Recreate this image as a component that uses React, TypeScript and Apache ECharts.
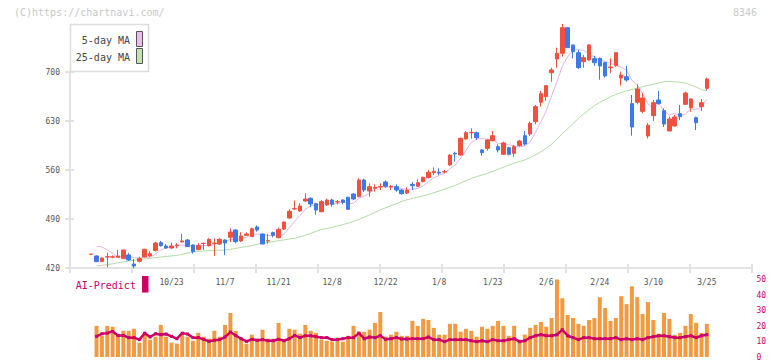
import React, { useEffect, useRef } from 'react';
import * as echarts from 'echarts';

const FONT = '"DejaVu Sans Mono", monospace';

const tickLabels = ['10/23', '11/7', '11/21', '12/8', '12/22', '1/8', '1/23', '2/6', '2/24', '3/10', '3/25'];
const firstLabelIndex = 15;
const labelStep = 10;

const opens = [439.5, 437.2, 429.1, 435.7, 435.5, 435.3, 433.4, 438.6, 425.7, 429.6, 435.7, 437.2, 444.8, 456.2, 451.4, 448.6, 451.9, 457.2, 460.0, 452.9, 446.2, 455.0, 451.9, 455.2, 454.3, 460.0, 463.8, 474.3, 458.6, 466.7, 464.8, 478.6, 468.6, 458.6, 470.5, 463.3, 475.7, 491.4, 504.3, 501.4, 515.7, 519.5, 511.9, 500.5, 510.0, 517.1, 514.3, 517.1, 521.0, 525.7, 521.9, 545.7, 530.0, 533.8, 535.7, 542.9, 535.7, 536.2, 531.4, 527.1, 539.5, 536.7, 543.3, 549.0, 556.2, 557.0, 557.1, 567.1, 583.8, 581.4, 604.3, 613.3, 613.3, 588.6, 590.9, 601.9, 593.3, 582.4, 591.9, 583.8, 594.8, 609.0, 611.4, 629.1, 656.7, 664.8, 699.0, 718.6, 726.7, 763.3, 738.6, 727.6, 714.8, 717.1, 719.0, 719.5, 713.3, 706.2, 709.0, 691.4, 693.3, 654.8, 656.7, 643.8, 608.6, 637.6, 660.0, 644.8, 615.7, 622.9, 640.5, 653.8, 649.0, 634.8, 650.5, 676.7];
const closes = [439.8, 429.1, 434.3, 436.2, 436.0, 437.2, 445.7, 431.5, 422.9, 433.4, 446.7, 440.5, 455.7, 451.9, 448.6, 451.4, 452.9, 458.6, 450.5, 443.4, 452.4, 455.3, 461.0, 455.5, 461.0, 455.7, 471.4, 457.6, 465.7, 468.6, 476.2, 474.3, 454.3, 459.1, 466.7, 475.2, 485.7, 501.0, 504.8, 508.6, 518.6, 511.4, 502.9, 514.8, 517.1, 511.0, 514.8, 513.8, 503.8, 518.6, 545.7, 531.4, 536.2, 535.2, 536.2, 536.7, 536.7, 531.4, 526.2, 531.4, 537.6, 541.9, 549.5, 556.7, 558.1, 555.7, 557.6, 581.4, 582.9, 605.2, 613.3, 613.8, 606.2, 584.8, 602.9, 609.0, 588.6, 598.6, 582.4, 593.3, 601.4, 597.1, 626.6, 650.5, 669.0, 680.5, 702.9, 726.7, 763.3, 734.8, 729.0, 706.2, 720.5, 738.6, 713.3, 708.6, 694.3, 707.1, 727.6, 695.7, 688.6, 621.4, 675.7, 662.9, 624.0, 656.2, 654.8, 625.7, 632.9, 635.7, 636.2, 670.0, 661.4, 627.6, 656.2, 690.0];
const lows = [439.0, 428.6, 428.6, 421.0, 433.8, 434.8, 433.0, 430.0, 419.5, 428.1, 435.2, 436.2, 443.8, 450.5, 447.6, 447.2, 448.1, 456.7, 450.0, 440.5, 445.7, 445.7, 450.5, 437.2, 452.9, 438.6, 457.2, 455.3, 457.2, 465.7, 464.3, 471.9, 454.0, 454.8, 463.8, 462.4, 474.3, 490.5, 502.9, 500.5, 514.3, 506.7, 496.2, 499.5, 508.6, 507.6, 511.0, 511.0, 503.5, 517.1, 521.0, 528.6, 521.9, 529.0, 531.4, 534.8, 531.4, 529.0, 524.8, 525.7, 531.4, 535.7, 542.4, 548.1, 552.9, 552.9, 555.2, 566.2, 571.9, 580.5, 603.8, 604.8, 602.9, 580.5, 587.6, 600.9, 585.2, 581.4, 581.0, 579.0, 593.3, 594.8, 608.6, 625.3, 650.5, 659.0, 686.2, 706.2, 721.9, 734.5, 719.5, 704.3, 706.2, 716.2, 709.0, 689.0, 691.9, 698.1, 707.6, 680.5, 686.2, 609.1, 653.8, 641.0, 605.0, 630.0, 653.8, 621.4, 615.7, 622.0, 631.4, 652.9, 643.3, 617.1, 644.3, 673.8];
const highs = [440.2, 438.1, 434.8, 441.9, 438.1, 445.7, 446.0, 441.5, 432.9, 436.2, 447.2, 444.3, 457.6, 458.6, 454.3, 456.2, 455.3, 468.6, 461.4, 453.8, 455.3, 456.2, 462.4, 462.4, 462.4, 461.0, 476.7, 475.2, 471.0, 471.0, 477.6, 481.0, 469.5, 468.6, 471.9, 477.6, 486.2, 503.8, 516.2, 512.4, 526.7, 521.0, 513.3, 517.1, 519.0, 519.0, 517.1, 518.0, 522.0, 526.7, 548.1, 547.6, 541.0, 539.5, 541.0, 545.2, 538.6, 539.5, 532.4, 535.2, 542.9, 546.7, 550.5, 560.0, 563.8, 562.4, 560.0, 582.4, 586.2, 606.2, 615.7, 619.5, 614.8, 590.0, 603.8, 615.7, 596.7, 600.5, 593.3, 595.7, 602.9, 615.7, 629.0, 652.9, 672.9, 681.0, 706.2, 734.8, 768.6, 763.5, 739.0, 731.4, 724.3, 739.5, 723.3, 720.5, 714.8, 719.5, 728.0, 700.5, 708.6, 667.1, 682.4, 670.0, 627.0, 660.0, 672.9, 648.1, 636.2, 638.6, 652.9, 671.9, 662.4, 636.2, 661.4, 691.9];

const ma5 = [null, 451, 450, 446, 441, 434.6, 437.9, 437.3, 434.7, 434.1, 436.0, 435.0, 439.8, 445.6, 448.7, 449.6, 452.1, 452.7, 452.4, 451.4, 451.6, 452.0, 452.5, 453.5, 457.0, 457.7, 460.9, 460.2, 462.3, 463.8, 467.9, 468.5, 467.8, 466.5, 466.1, 465.9, 468.2, 477.5, 486.7, 495.1, 503.7, 508.9, 509.3, 511.3, 513.0, 511.4, 512.1, 514.3, 512.1, 512.4, 519.3, 522.7, 527.1, 533.4, 536.9, 535.1, 536.2, 535.2, 533.4, 532.5, 532.7, 533.7, 537.3, 543.4, 548.8, 552.4, 555.5, 561.9, 567.1, 576.6, 588.1, 599.3, 604.3, 604.7, 604.2, 603.3, 598.3, 596.8, 596.3, 594.4, 592.9, 594.6, 600.2, 613.8, 628.9, 644.7, 665.9, 685.9, 708.5, 721.6, 731.3, 732.0, 730.8, 725.8, 721.5, 717.4, 715.1, 712.4, 710.2, 706.7, 702.7, 688.1, 681.8, 668.9, 654.5, 648.0, 654.7, 644.7, 638.7, 641.1, 637.1, 640.1, 647.2, 646.2, 650.3, 661.0];
const ma25 = [null, 422.9, 423.8, 424.8, 426, 427.5, 428.6, 430, 431, 432, 433, 433.8, 434.8, 435.7, 436.5, 437.2, 438, 439.5, 441.5, 443, 443.8, 444.3, 444.8, 445.2, 445.5, 445.7, 446.5, 448, 449.5, 450.5, 452, 453.8, 455.3, 456.5, 457.6, 459, 460.2, 461.4, 462.4, 464.5, 466.7, 469.5, 472.4, 475, 476.5, 478, 480, 482, 484, 486.5, 489.5, 492.5, 496, 499.5, 503, 506, 509, 512, 515, 517.6, 519.5, 521.2, 522.9, 525.2, 527.6, 530, 532.6, 535.2, 538, 541.4, 544.8, 548, 550.5, 552.9, 555.2, 558, 561, 564, 567, 569.5, 572, 574.3, 578, 581.5, 586, 591, 597, 604, 612, 619, 626, 633.8, 640, 646, 652, 656.5, 660.5, 664.8, 668, 670.8, 672.9, 675, 677.2, 679.1, 680.8, 682.4, 684.3, 686.2, 686.5, 686.2, 685.5, 684, 681.4, 678.5, 675, 672.9];

const volumes = [null, 20.1, 13.7, 20.1, 19.5, 15, 16.9, 16.9, 18.2, 9.3, 14.4, 11.2, 13.1, 20.7, 13.1, 9.3, 8.6, 15, 13.1, 10.5, 15.6, 13.1, 11.8, 16.9, 13.1, 20.7, 28.4, 16.9, 11.8, 8.6, 14.4, 11.8, 17.6, 11.8, 11.8, 22, 11.2, 18.2, 17.6, 15, 20.7, 16.9, 15.6, 11.2, 10.5, 9.9, 12.5, 9.9, 13.7, 20.1, 16.3, 16.3, 17.6, 22, 29, 13.1, 14.4, 16.3, 13.7, 13.7, 23.3, 20.1, 24.6, 23.9, 18.8, 14.4, 14.4, 21.4, 21.4, 16.3, 18.2, 16.9, 13.1, 19.5, 18.2, 20.1, 23.3, 20.1, 13.7, 20.1, 11.2, 14.4, 18.8, 20.7, 22.6, 19.5, 25.2, 50, 37.9, 27.1, 25.2, 21.4, 20.1, 23.9, 25.2, 38.6, 31.6, 23.3, 25.2, 39.2, 34.1, 45.6, 38.6, 27.7, 35.4, 23.9, 15, 28.4, 24.6, 14.4, 15.6, 20.1, 27.7, 22, 15.6, 21.4];
const aiPredict = [null, 13.3, 15, 15.4, 16.5, 13.9, 13.9, 12.5, 12.5, 11.2, 15.4, 12.9, 15, 14.4, 14.8, 13.3, 11.8, 15.4, 14.8, 12.5, 12.5, 11.4, 10.1, 10.8, 11.2, 12.9, 16.1, 13.9, 11.8, 10.1, 11.4, 10.8, 11.2, 10.5, 10.5, 11.4, 10.5, 11.8, 13.9, 12.5, 13.7, 13.7, 13.1, 12.5, 12.5, 11.2, 11.2, 11.8, 12.5, 12.5, 15.4, 11.8, 12.9, 12.5, 13.7, 11.4, 11.8, 12.5, 11.6, 11.6, 11.8, 11.8, 11.8, 12.9, 11.2, 11.2, 9.9, 11.2, 11.2, 11.2, 11.2, 10.5, 9.9, 10.5, 9.9, 11.2, 10.5, 10.5, 11.2, 11.8, 9.9, 10.5, 12.5, 13.7, 14.4, 13.7, 13.7, 14.4, 17.6, 13.7, 12.5, 11.2, 12.5, 12.5, 11.8, 11.8, 11.8, 11.8, 12.5, 11.2, 11.8, 11.2, 11.8, 11.2, 12.5, 13.1, 13.7, 13.7, 13.1, 12.5, 12.5, 13.1, 13.7, 12.5, 13.7, 14.4];

const yTickMin = 420;
const yTickMax = 700;
const yTickStep = 70;
const volMax = 50;
const volStep = 10;

export default function App() {
  const ref = useRef<HTMLDivElement>(null);
  useEffect(() => {
    document.body.style.margin = '0';
    const chart = echarts.init(ref.current!, null, { renderer: 'svg' });
    const cats = opens.map((_, i) => String(i));
    const candles = opens.map((o, i) => [o, closes[i], lows[i], highs[i]]);
    const axisColor = '#e2e2e2';
    const candleLeft = 88.53;
    const candleRight = 62.47;

    chart.setOption({
      animation: false,
      backgroundColor: '#ffffff',
      textStyle: { fontFamily: FONT },
      grid: [
        { left: candleLeft, right: candleRight, top: 23, bottom: 93 },
        { left: 70, right: 20, top: 72, bottom: 93 },
        { left: 70, right: 20, top: 72, bottom: 93 },
        { left: candleLeft, right: candleRight, top: 279.5, bottom: 2.5 },
      ],
      xAxis: [
        {
          type: 'category', gridIndex: 0, data: cats, boundaryGap: true,
          axisLine: { show: false }, axisTick: { show: false }, splitLine: { show: false },
          axisLabel: {
            interval: (idx: number) => idx >= firstLabelIndex && (idx - firstLabelIndex) % labelStep === 0,
            formatter: (_v: string, idx: number) => tickLabels[(idx - firstLabelIndex) / labelStep] ?? '',
            margin: 10, color: '#555', fontSize: 8, fontFamily: FONT,
          },
        },
        {
          type: 'value', gridIndex: 1, min: 0, max: 682, interval: 62,
          axisLine: { show: true, lineStyle: { color: axisColor, width: 2 } },
          axisTick: { show: true, length: 5, lineStyle: { color: axisColor, width: 2 } },
          axisLabel: { show: false }, splitLine: { show: false },
        },
        {
          type: 'value', gridIndex: 2, min: 0, max: 682, interval: 62,
          axisLine: { show: false },
          axisTick: { show: true, inside: true, length: 4, lineStyle: { color: axisColor, width: 2 } },
          axisLabel: { show: false }, splitLine: { show: false },
        },
        { type: 'category', gridIndex: 3, data: cats, boundaryGap: true, show: false },
      ],
      yAxis: [
        { type: 'value', gridIndex: 0, min: 420, max: 770, show: false, splitLine: { show: false } },
        {
          type: 'value', gridIndex: 1, min: yTickMin, max: yTickMax, interval: yTickStep,
          axisLine: { show: true, lineStyle: { color: axisColor, width: 2 } },
          axisTick: { show: true, length: 5, lineStyle: { color: axisColor, width: 2 } },
          axisLabel: { margin: 10, color: '#555', fontSize: 8, fontFamily: FONT },
          splitLine: { show: false },
        },
        {
          type: 'value', gridIndex: 2, min: yTickMin, max: yTickMax, interval: yTickStep,
          axisLine: { show: false },
          axisTick: { show: true, inside: true, length: 4, lineStyle: { color: axisColor, width: 2 } },
          axisLabel: { show: false }, splitLine: { show: false },
        },
        {
          type: 'value', gridIndex: 3, min: 0, max: volMax, interval: volStep, position: 'right',
          axisLine: { show: false }, axisTick: { show: false }, splitLine: { show: false },
          axisLabel: { margin: 47, color: '#cc0066', fontSize: 8, fontFamily: FONT },
        },
      ],
      series: [
        {
          type: 'line', name: '25-day MA', xAxisIndex: 0, yAxisIndex: 0, data: ma25,
          showSymbol: false, lineStyle: { color: '#b6d9a6', width: 1 }, z: 2,
        },
        {
          type: 'line', name: '5-day MA', xAxisIndex: 0, yAxisIndex: 0, data: ma5,
          showSymbol: false, lineStyle: { color: '#e8b2e8', width: 1 }, z: 2,
        },
        {
          type: 'candlestick', xAxisIndex: 0, yAxisIndex: 0, data: candles, barWidth: 4, z: 3,
          itemStyle: {
            color: '#f0513e', color0: '#3d7ae6',
            borderColor: '#f0513e', borderColor0: '#3d7ae6', borderWidth: 1,
          },
        },
        {
          type: 'bar', xAxisIndex: 3, yAxisIndex: 3, data: volumes, barWidth: 4,
          itemStyle: { color: '#f29a42' },
        },
        {
          type: 'line', name: 'AI-Predict', xAxisIndex: 3, yAxisIndex: 3, data: aiPredict,
          showSymbol: true, symbol: 'rect', symbolSize: 3,
          itemStyle: { color: '#cc0066' },
          lineStyle: { color: '#cc0066', width: 2.5 },
        },
      ],
      graphic: [
        { type: 'text', x: 14, y: 12.5, style: { text: '(C)https://chartnavi.com/', fill: '#c8c8c8', font: `10px ${FONT}`, verticalAlign: 'middle' } },
        { type: 'text', x: 757, y: 12, style: { text: '8346', fill: '#c8c8c8', font: `10px ${FONT}`, align: 'right', verticalAlign: 'middle' } },
        { type: 'rect', shape: { x: 70.5, y: 24.5, width: 78, height: 47 }, style: { fill: '#ffffff', stroke: '#dddddd', lineWidth: 1.5 }, z: 10 },
        { type: 'text', x: 130, y: 40.5, style: { text: '5-day MA', fill: '#444', font: `10px ${FONT}`, align: 'right', verticalAlign: 'middle' }, z: 11 },
        { type: 'text', x: 130, y: 57.5, style: { text: '25-day MA', fill: '#444', font: `10px ${FONT}`, align: 'right', verticalAlign: 'middle' }, z: 11 },
        { type: 'rect', shape: { x: 136.5, y: 31.5, width: 6, height: 15 }, style: { fill: '#ecbcec', stroke: '#555', lineWidth: 1 }, z: 11 },
        { type: 'rect', shape: { x: 136.5, y: 48.5, width: 6, height: 15 }, style: { fill: '#c2e0b4', stroke: '#555', lineWidth: 1 }, z: 11 },
        { type: 'text', x: 75.7, y: 285.5, style: { text: 'AI-Predict', fill: '#cc0066', font: `10px ${FONT}`, verticalAlign: 'middle' }, z: 11 },
        { type: 'rect', shape: { x: 142, y: 276, width: 6.5, height: 16.5 }, style: { fill: '#cc0066' }, z: 11 },
      ],
    });
    return () => chart.dispose();
  }, []);
  return <div ref={ref} style={{ width: 772, height: 361 }} />;
}
